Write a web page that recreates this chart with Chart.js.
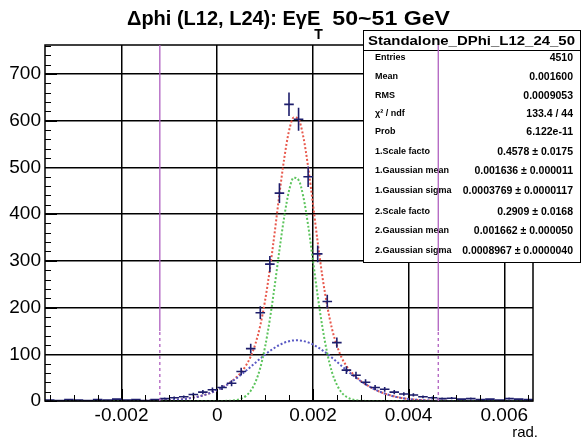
<!DOCTYPE html>
<html>
<head>
<meta charset="utf-8">
<script src="https://cdn.jsdelivr.net/npm/chart.js@4/dist/chart.umd.min.js"></script>
<style>
  html, body { margin: 0; padding: 0; background: #fff; }
  #c { display: block; }
</style>
</head>
<body>
<canvas id="c" width="582" height="440"></canvas>
<script>
// histogram bins (centres, rad) and counts
const binCenters = [
  -0.0035, -0.0033, -0.0031, -0.0029, -0.0027, -0.0025, -0.0023, -0.0021, -0.0019, -0.0017,
  -0.0015, -0.0013, -0.0011, -0.0009, -0.0007, -0.0005, -0.0003, -0.0001, 0.0001, 0.0003,
  0.0005, 0.0007, 0.0009, 0.0011, 0.0013, 0.0015, 0.0017, 0.0019, 0.0021, 0.0023,
  0.0025, 0.0027, 0.0029, 0.0031, 0.0033, 0.0035, 0.0037, 0.0039, 0.0041, 0.0043,
  0.0045, 0.0047, 0.0049, 0.0051, 0.0053, 0.0055, 0.0057, 0.0059, 0.0061, 0.0063, 0.0065
];
const binCounts = [
  2, 1, 3, 2, 1, 3, 2, 4, 2, 3,
  1, 3, 5, 7, 9, 14, 19, 24, 29, 38,
  63, 112, 189, 293, 445, 635, 603, 480, 315, 213,
  125, 66, 55, 40, 29, 25, 19, 15, 13, 9,
  7, 5, 6, 4, 5, 3, 4, 2, 5, 4, 3
];
const binHalfWidth = 0.0001;

// fit curves
const curveX = [
  -0.0036, -0.0032, -0.0028, -0.0024, -0.0020, -0.0016, -0.0012, -0.0010, -0.0008, -0.0006,
  -0.0004, -0.0002, 0.0000, 0.0001, 0.0002, 0.0003, 0.0004, 0.0005, 0.0006, 0.0007,
  0.0008, 0.0009, 0.0010, 0.0011, 0.0012, 0.0013, 0.0014, 0.0015, 0.0016, 0.0017,
  0.0018, 0.0019, 0.0020, 0.0021, 0.0022, 0.0023, 0.0024, 0.0025, 0.0026, 0.0027,
  0.0028, 0.0029, 0.0030, 0.0031, 0.0032, 0.0033, 0.0034, 0.0036, 0.0038, 0.0040,
  0.0042, 0.0044, 0.0046, 0.0050, 0.0054, 0.0058, 0.0062, 0.0066
];
const totalFit = [
  0, 0, 0, 0, 0, 0.2, 0.8, 1.6, 3.0, 5.5,
  9.3, 15.1, 23.5, 28.7, 34.8, 42.1, 50.7, 61.4, 75.7, 95.3,
  123, 162, 215, 282, 360, 443, 519, 578, 607, 603,
  565, 501, 422, 340, 265, 203, 154, 119, 93, 75,
  62, 52, 43, 36, 30, 24.5, 19.8, 12.5, 7.5, 4.3,
  2.4, 1.2, 0.6, 0.1, 0, 0, 0, 0
];
const narrowFit = [
  0, 0, 0, 0, 0, 0, 0, 0, 0, 0,
  0, 0, 0, 0.1, 0.3, 0.9, 2.2, 5.1, 11, 22,
  41, 71, 116, 175, 246, 323, 394, 450, 478, 473,
  437, 376, 301, 225, 157, 102, 61, 35, 18, 9,
  4, 1.7, 0.7, 0.2, 0, 0, 0, 0, 0, 0,
  0, 0, 0, 0, 0, 0, 0, 0
];
const wideFit = [
  0, 0, 0, 0, 0, 0.2, 0.8, 1.6, 3.0, 5.5,
  9.3, 15.1, 23.5, 28.6, 34.5, 41.2, 48.5, 56.3, 64.7, 73.3,
  82.1, 90.8, 99.2, 107, 114, 120, 124.7, 127.9, 129.7, 129.9,
  128.4, 125.4, 121, 115.3, 108.5, 100.9, 92.5, 83.9, 75.1, 66.4,
  58, 50, 42.6, 35.9, 29.8, 24.5, 19.8, 12.5, 7.5, 4.3,
  2.4, 1.2, 0.6, 0.1, 0, 0, 0, 0
];

// vertical markers (rad) and the level where they switch from dashed to solid
const markerX = [-0.0012, 0.00462];
const markerSplit = 150;

// axes
const xMin = -0.0036, xMax = 0.0066;
const yMin = 0, yMax = 762;
const xTicks = [-0.002, 0, 0.002, 0.004, 0.006];
const xTickLabels = ['-0.002', '0', '0.002', '0.004', '0.006'];
const yTicks = [0, 100, 200, 300, 400, 500, 600, 700];
const xMinorStep = 0.0005;
const yMinorStep = 20;

// stats box
const statsTitle = 'Standalone_DPhi_L12_24_50';
const statsLabels = ['Entries', 'Mean', 'RMS', '\u03c7\u00b2 / ndf', 'Prob', '1.Scale facto', '1.Gaussian mean',
  '1.Gaussian sigma', '2.Scale facto', '2.Gaussian mean', '2.Gaussian sigma'];
const statsValues = ['4510', '0.001600', '0.0009053', '133.4 / 44', '6.122e-11', '0.4578 \u00b1 0.0175',
  '0.001636 \u00b1 0.000011', '0.0003769 \u00b1 0.0000117', '0.2909 \u00b1 0.0168',
  '0.001662 \u00b1 0.000050', '0.0008967 \u00b1 0.0000040'];

const FONT = '"Liberation Sans", Arial, Helvetica, sans-serif';

function pts(xs, ys) {
  return xs.map((x, i) => ({ x: x, y: ys[i] }));
}

// text squeezed/stretched to a given width
function fitText(ctx, text, x, y, width) {
  const w = ctx.measureText(text).width;
  ctx.save();
  ctx.translate(x, y);
  ctx.scale(width / w, 1);
  ctx.fillText(text, 0, 0);
  ctx.restore();
}

// error bars, frame, minor ticks, stats box, markers, title
const rootDecor = {
  id: 'rootDecor',
  afterDatasetsDraw(chart) {
    const ctx = chart.ctx;
    const xs = chart.scales.x, ys = chart.scales.y;
    const a = chart.chartArea;

    // data points with error bars
    ctx.save();
    ctx.beginPath();
    ctx.rect(a.left, a.top, a.right - a.left, a.bottom - a.top);
    ctx.clip();
    ctx.strokeStyle = '#1d1d6b';
    ctx.lineWidth = 1.6;
    binCenters.forEach((c, i) => {
      const n = binCounts[i];
      const err = Math.sqrt(n);
      const px = xs.getPixelForValue(c);
      const py = ys.getPixelForValue(n);
      ctx.beginPath();
      ctx.moveTo(xs.getPixelForValue(c - binHalfWidth), py);
      ctx.lineTo(xs.getPixelForValue(c + binHalfWidth), py);
      ctx.moveTo(px, ys.getPixelForValue(n - err));
      ctx.lineTo(px, ys.getPixelForValue(n + err));
      ctx.stroke();
    });
    ctx.restore();

    // frame
    ctx.save();
    ctx.strokeStyle = '#000';
    ctx.lineWidth = 1.5;
    ctx.strokeRect(a.left, a.top, a.right - a.left, a.bottom - a.top);

    // minor + major ticks, inside the frame
    ctx.lineWidth = 1;
    ctx.beginPath();
    for (let v = -0.0035; v <= xMax + 1e-9; v += xMinorStep) {
      const px = Math.round(xs.getPixelForValue(v)) + 0.5;
      const major = xTicks.some(t => Math.abs(t - v) < 1e-7);
      ctx.moveTo(px, a.bottom);
      ctx.lineTo(px, a.bottom - (major ? 12 : 6));
    }
    for (let v = 0; v <= yMax; v += yMinorStep) {
      const py = Math.round(ys.getPixelForValue(v)) + 0.5;
      const major = v % 100 === 0;
      ctx.moveTo(a.left, py);
      ctx.lineTo(a.left + (major ? 12 : 6), py);
    }
    ctx.stroke();

    // stats box
    const bx = 363, by = 30, bw = 217, bh = 232, th = 20;
    ctx.fillStyle = '#fff';
    ctx.fillRect(bx, by, bw, bh);
    ctx.strokeStyle = '#000';
    ctx.lineWidth = 1;
    ctx.strokeRect(bx + 0.5, by + 0.5, bw, bh);
    ctx.beginPath();
    ctx.moveTo(bx, by + th + 0.5);
    ctx.lineTo(bx + bw, by + th + 0.5);
    ctx.stroke();
    ctx.fillStyle = '#000';
    ctx.font = 'bold 13px ' + FONT;
    ctx.textAlign = 'left';
    ctx.textBaseline = 'middle';
    fitText(ctx, statsTitle, bx + 5, by + th / 2 + 1, bw - 10);
    const rowY = [58, 77, 96, 114, 132, 152, 171, 191, 212, 231, 251];
    statsLabels.forEach((lab, i) => {
      ctx.font = 'bold 9px ' + FONT;
      ctx.textAlign = 'left';
      ctx.fillText(lab, bx + 12, rowY[i]);
      ctx.font = 'bold 10.5px ' + FONT;
      ctx.textAlign = 'right';
      ctx.fillText(statsValues[i], bx + bw - 7, rowY[i]);
    });

    // vertical markers
    ctx.strokeStyle = '#b060c0';
    ctx.lineWidth = 1.3;
    markerX.forEach(m => {
      const px = xs.getPixelForValue(m);
      ctx.setLineDash([3, 3]);
      ctx.beginPath();
      ctx.moveTo(px, a.bottom);
      ctx.lineTo(px, ys.getPixelForValue(markerSplit));
      ctx.stroke();
      ctx.setLineDash([]);
      ctx.beginPath();
      ctx.moveTo(px, ys.getPixelForValue(markerSplit));
      ctx.lineTo(px, a.top);
      ctx.stroke();
    });

    // title
    ctx.fillStyle = '#000';
    ctx.textAlign = 'left';
    ctx.textBaseline = 'alphabetic';
    ctx.font = 'bold 20px ' + FONT;
    let tx = 127;
    const head = '\u0394phi (L12, L24): E\u03b3E';
    const tail = '50~51 GeV';
    ctx.fillText(head, tx, 25);
    tx += ctx.measureText(head).width;
    ctx.font = 'bold 14px ' + FONT;
    ctx.fillText('T', tx - 6, 39);
    tx += 12;
    ctx.font = 'bold 20px ' + FONT;
    fitText(ctx, tail, tx, 25, 450 - tx);

    // axis unit
    ctx.font = '15px ' + FONT;
    ctx.textAlign = 'right';
    ctx.fillText('rad.', a.right + 5, 437);
    ctx.restore();
  }
};

new Chart(document.getElementById('c'), {
  type: 'scatter',
  data: {
    datasets: [
      {
        label: 'data',
        data: pts(binCenters, binCounts),
        pointRadius: 0,
        showLine: false
      },
      {
        label: 'narrow gaussian',
        data: pts(curveX, narrowFit),
        showLine: true,
        borderColor: '#5cc45c',
        borderWidth: 2,
        borderDash: [2, 2],
        pointRadius: 0,
        cubicInterpolationMode: 'monotone'
      },
      {
        label: 'wide gaussian',
        data: pts(curveX, wideFit),
        showLine: true,
        borderColor: '#5858c4',
        borderWidth: 2,
        borderDash: [2, 2],
        pointRadius: 0,
        cubicInterpolationMode: 'monotone'
      },
      {
        label: 'total fit',
        data: pts(curveX, totalFit),
        showLine: true,
        borderColor: '#e8584c',
        borderWidth: 2,
        borderDash: [2, 2],
        pointRadius: 0,
        cubicInterpolationMode: 'monotone'
      }
    ]
  },
  options: {
    responsive: false,
    animation: false,
    devicePixelRatio: 1,
    layout: { padding: { top: 45, right: 49, left: 0, bottom: 0 } },
    plugins: {
      legend: { display: false },
      title: { display: false },
      tooltip: { enabled: false }
    },
    scales: {
      x: {
        type: 'linear',
        min: xMin,
        max: xMax,
        afterBuildTicks: s => { s.ticks = xTicks.map(v => ({ value: v })); },
        afterFit: s => { s.height = 39; },
        ticks: {
          autoSkip: false,
          maxRotation: 0,
          color: '#000',
          padding: 3,
          font: { family: FONT, size: 19 },
          callback: (v, i) => xTickLabels[i]
        },
        grid: { color: '#000', lineWidth: 1.5, drawTicks: false },
        border: { display: false }
      },
      y: {
        type: 'linear',
        min: yMin,
        max: yMax,
        afterBuildTicks: s => { s.ticks = yTicks.map(v => ({ value: v })); },
        afterFit: s => { s.width = 45; },
        ticks: {
          autoSkip: false,
          color: '#000',
          padding: 4,
          font: { family: FONT, size: 19 }
        },
        grid: { color: '#000', lineWidth: 1.5, drawTicks: false },
        border: { display: false }
      }
    }
  },
  plugins: [rootDecor]
});
</script>
</body>
</html>
